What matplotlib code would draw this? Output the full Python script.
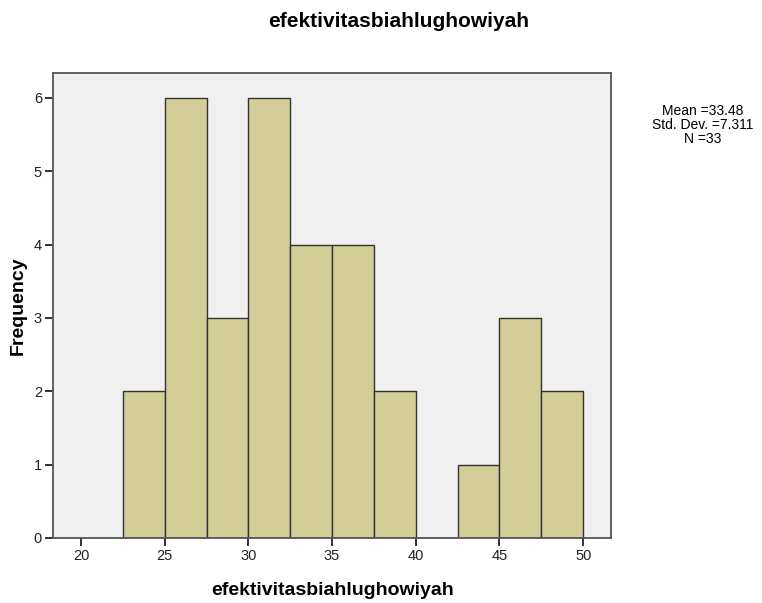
import numpy as np
import matplotlib
matplotlib.use('Agg')
import matplotlib.pyplot as plt

plt.rcParams['font.family'] = ['Liberation Sans', 'DejaVu Sans']

# histogram data (bin edges width 2.5)
bin_left = [22.5, 25.0, 27.5, 30.0, 32.5, 35.0, 37.5, 40.0, 42.5, 45.0, 47.5]
counts = [2, 6, 3, 6, 4, 4, 2, 0, 1, 3, 2]
bin_width = 2.5
x_ticks = [20, 25, 30, 35, 40, 45, 50]
y_ticks = [0, 1, 2, 3, 4, 5, 6]
stats_text = 'Mean =33.48\nStd. Dev. =7.311\nN =33'
var_name = 'efektivitasbiahlughowiyah'

fig = plt.figure(figsize=(7.62, 6.03), dpi=100)
ax = fig.add_axes([0.0696, 0.1078, 0.7324, 0.7712])
ax.set_facecolor('#F0F0F0')

ax.bar(bin_left, counts, width=bin_width, align='edge',
       color='#D3CE97', edgecolor='#333333', linewidth=1.0, zorder=2)

ax.set_xlim(18.33, 51.67)
ax.set_ylim(0, 6.34)
ax.set_xticks(x_ticks)
ax.set_yticks(y_ticks)
ax.tick_params(labelsize=10.5, color='#333333', length=6, width=1.4, pad=2,
               labelcolor='#222222')

for s in ax.spines.values():
    s.set_color('#555555')
    s.set_linewidth(1.3)

fig.text(0.523, 0.965, var_name, ha='center', va='center',
         fontsize=15, fontweight='bold')
fig.text(0.436, 0.021, var_name, ha='center', va='center',
         fontsize=14, fontweight='bold')
fig.text(0.024, 0.4925, 'Frequency', ha='center', va='center', rotation=90,
         fontsize=14, fontweight='bold')
fig.text(0.922, 0.793, stats_text, ha='center', va='center',
         fontsize=10, linespacing=1.0)

fig.savefig('out.png', dpi=100)
